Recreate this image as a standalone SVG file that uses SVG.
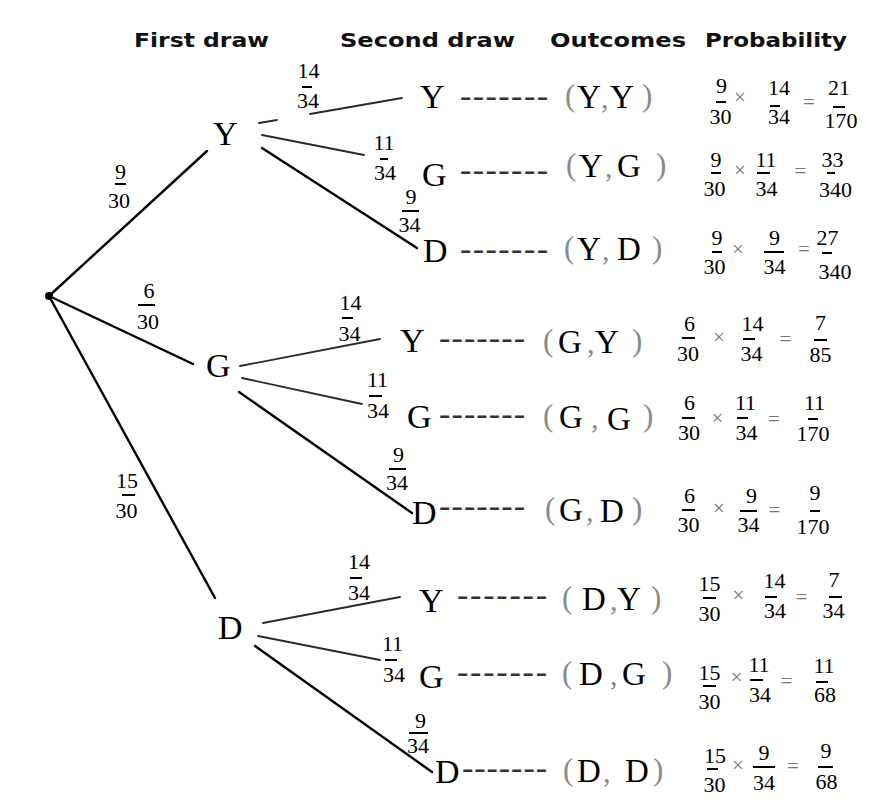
<svg xmlns="http://www.w3.org/2000/svg" width="895" height="800" viewBox="0 0 895 800">
<style>
.hd{font-family:"DejaVu Sans","Verdana",sans-serif;font-weight:bold;font-size:19px;fill:#111}
.L{font-family:"Liberation Serif","Times New Roman",serif;font-size:34px;fill:#000}
.O{font-family:"Liberation Serif","Times New Roman",serif;font-size:33px;fill:#000}
.p{font-family:"Liberation Serif","Times New Roman",serif;font-size:31px;fill:#8a8a8a}
.cm{font-family:"Liberation Serif","Times New Roman",serif;font-size:30px;fill:#888}
.ds{font-family:"Liberation Serif","Times New Roman",serif;font-size:34px;fill:#333}
.f{font-family:"Liberation Serif","Times New Roman",serif;font-size:22px;fill:#000;text-anchor:middle}
.op{font-family:"Liberation Serif","Times New Roman",serif;font-size:21px;fill:#777;text-anchor:middle}
.bar{stroke:#000;stroke-width:2}
.e1{stroke:#000;stroke-width:2.4;fill:none;stroke-linecap:round}
.e2{stroke:#2a2a2a;stroke-width:1.8;fill:none;stroke-linecap:round}
</style>
<rect width="895" height="800" fill="#fff"/>

<g id="headers">
<text class="hd" x="134" y="47" textLength="135" lengthAdjust="spacingAndGlyphs">First draw</text>
<text class="hd" x="340" y="47" textLength="175" lengthAdjust="spacingAndGlyphs">Second draw</text>
<text class="hd" x="550" y="47" textLength="136" lengthAdjust="spacingAndGlyphs">Outcomes</text>
<text class="hd" x="705" y="47" textLength="142" lengthAdjust="spacingAndGlyphs">Probability</text>
</g>

<g id="connectors">
<line class="e1" x1="49" y1="296" x2="207" y2="151"/>
<line class="e1" x1="49" y1="296" x2="193" y2="364"/>
<line class="e1" x1="49" y1="296" x2="215" y2="598"/>
<path class="e2" d="M259,123 L277,120 M310,114 L402,98"/>
<line class="e2" x1="262" y1="135" x2="364" y2="155"/>
<line class="e1" x1="262" y1="148" x2="417" y2="248"/>
<line class="e2" x1="240" y1="366" x2="380" y2="339"/>
<line class="e2" x1="242" y1="378" x2="362" y2="404"/>
<line class="e1" x1="239" y1="392" x2="412" y2="513"/>
<line class="e2" x1="263" y1="623" x2="400" y2="597"/>
<line class="e2" x1="258" y1="636" x2="380" y2="660"/>
<line class="e1" x1="255" y1="646" x2="432" y2="772"/>
</g>

<g id="root"><circle cx="49" cy="296" r="4" fill="#000"/></g>

<g id="n-Y"><text class="L" x="213" y="145">Y</text></g>
<g id="n-G"><text class="L" x="206" y="377">G</text></g>
<g id="n-D"><text class="L" x="218" y="639">D</text></g>

<g id="n-YY"><text class="L" x="420" y="108">Y</text></g>
<g id="n-YG"><text class="L" x="422" y="186">G</text></g>
<g id="n-YD"><text class="L" x="423" y="262">D</text></g>
<g id="n-GY"><text class="L" x="400" y="352">Y</text></g>
<g id="n-GG"><text class="L" x="407" y="428">G</text></g>
<g id="n-GD"><text class="L" x="412" y="524">D</text></g>
<g id="n-DY"><text class="L" x="419" y="612">Y</text></g>
<g id="n-DG"><text class="L" x="419" y="688">G</text></g>
<g id="n-DD"><text class="L" x="435" y="783">D</text></g>

<g id="edge-labels">
<text class="f" x="120.5" y="179">9</text><line class="bar" x1="115" y1="184" x2="126" y2="184"/><text class="f" x="119" y="208">30</text>
<text class="f" x="149" y="298">6</text><line class="bar" x1="138" y1="305" x2="155" y2="305"/><text class="f" x="148" y="329">30</text>
<text class="f" x="127" y="488">15</text><line class="bar" x1="122" y1="495" x2="135" y2="495"/><text class="f" x="126.5" y="518">30</text>

<text class="f" x="308.5" y="78">14</text><line class="bar" x1="302" y1="87" x2="312" y2="87"/><text class="f" x="308" y="108">34</text>
<text class="f" x="384" y="150">11</text><line class="bar" x1="380" y1="159" x2="388" y2="159"/><text class="f" x="385" y="180">34</text>
<text class="f" x="411" y="204">9</text><line class="bar" x1="402" y1="211" x2="419" y2="211"/><text class="f" x="409.5" y="232">34</text>

<text class="f" x="350.5" y="310">14</text><line class="bar" x1="342" y1="318" x2="353" y2="318"/><text class="f" x="349.5" y="341">34</text>
<text class="f" x="377.5" y="387">11</text><line class="bar" x1="369" y1="396" x2="382" y2="396"/><text class="f" x="378" y="418">34</text>
<text class="f" x="398.5" y="462">9</text><line class="bar" x1="389" y1="469" x2="406" y2="469"/><text class="f" x="397" y="490">34</text>

<text class="f" x="359" y="569">14</text><line class="bar" x1="350" y1="578" x2="362" y2="578"/><text class="f" x="359" y="600">34</text>
<text class="f" x="392.5" y="651">11</text><line class="bar" x1="385" y1="660" x2="397" y2="660"/><text class="f" x="394" y="682">34</text>
<text class="f" x="420.5" y="728">9</text><line class="bar" x1="409" y1="733" x2="428" y2="733"/><text class="f" x="418" y="753">34</text>
</g>

<g id="dashes">
<text class="ds" x="460" y="107" textLength="88" lengthAdjust="spacing">-------</text>
<text class="ds" x="460" y="181" textLength="88" lengthAdjust="spacing">-------</text>
<text class="ds" x="460" y="260" textLength="88" lengthAdjust="spacing">-------</text>
<text class="ds" x="439" y="349" textLength="86" lengthAdjust="spacing">-------</text>
<text class="ds" x="439" y="425" textLength="86" lengthAdjust="spacing">-------</text>
<text class="ds" x="439" y="517" textLength="86" lengthAdjust="spacing">-------</text>
<text class="ds" x="457" y="606" textLength="90" lengthAdjust="spacing">-------</text>
<text class="ds" x="457" y="683" textLength="90" lengthAdjust="spacing">-------</text>
<text class="ds" x="462" y="779" textLength="85" lengthAdjust="spacing">-------</text>
</g>

<g id="outcomes">
<g id="o-YY"><text class="p" x="565" y="106">(</text><text class="O" x="577" y="108">Y</text><text class="cm" x="601" y="108">,</text><text class="O" x="610" y="108">Y</text><text class="p" x="642" y="106">)</text></g>
<g id="o-YG"><text class="p" x="566" y="175">(</text><text class="O" x="579" y="177">Y</text><text class="cm" x="605" y="177">,</text><text class="O" x="617" y="177">G</text><text class="p" x="656" y="175">)</text></g>
<g id="o-YD"><text class="p" x="564" y="258">(</text><text class="O" x="577" y="260">Y</text><text class="cm" x="602" y="260">,</text><text class="O" x="617" y="260">D</text><text class="p" x="652" y="258">)</text></g>
<g id="o-GY"><text class="p" x="543" y="351">(</text><text class="O" x="558" y="353">G</text><text class="cm" x="587" y="353">,</text><text class="O" x="595" y="353">Y</text><text class="p" x="632" y="351">)</text></g>
<g id="o-GG"><text class="p" x="543" y="426">(</text><text class="O" x="559" y="428">G</text><text class="cm" x="591" y="428">,</text><text class="O" x="607" y="430">G</text><text class="p" x="643" y="426">)</text></g>
<g id="o-GD"><text class="p" x="545" y="519">(</text><text class="O" x="559" y="521">G</text><text class="cm" x="586" y="521">,</text><text class="O" x="600" y="522">D</text><text class="p" x="632" y="519">)</text></g>
<g id="o-DY"><text class="p" x="562" y="608">(</text><text class="O" x="582" y="610">D</text><text class="cm" x="610" y="610">,</text><text class="O" x="617" y="610">Y</text><text class="p" x="651" y="608">)</text></g>
<g id="o-DG"><text class="p" x="562" y="683">(</text><text class="O" x="579" y="685">D</text><text class="cm" x="610" y="685">,</text><text class="O" x="622" y="685">G</text><text class="p" x="662" y="683">)</text></g>
<g id="o-DD"><text class="p" x="563" y="780">(</text><text class="O" x="577" y="782">D</text><text class="cm" x="603" y="782">,</text><text class="O" x="625" y="782">D</text><text class="p" x="653" y="780">)</text></g>
</g>

<g id="probabilities">
<g id="p-YY">
<text class="f" x="721.5" y="93">9</text><line class="bar" x1="716" y1="102" x2="726" y2="102"/><text class="f" x="720.5" y="124">30</text>
<text class="op" x="740" y="104">×</text>
<text class="f" x="779" y="95">14</text><line class="bar" x1="770" y1="106" x2="780" y2="106"/><text class="f" x="779" y="124">34</text>
<text class="op" x="809" y="109">=</text>
<text class="f" x="839" y="95">21</text><line class="bar" x1="833" y1="107" x2="845" y2="107"/><text class="f" x="841" y="128">170</text>
</g>
<g id="p-YG">
<text class="f" x="716" y="167">9</text><line class="bar" x1="711" y1="173" x2="721" y2="173"/><text class="f" x="714.5" y="196">30</text>
<text class="op" x="740" y="177">×</text>
<text class="f" x="766" y="167">11</text><line class="bar" x1="757" y1="173" x2="770" y2="173"/><text class="f" x="766.5" y="196">34</text>
<text class="op" x="800.5" y="177.5">=</text>
<text class="f" x="832.5" y="167">33</text><line class="bar" x1="827" y1="173" x2="835" y2="173"/><text class="f" x="835.5" y="197">340</text>
</g>
<g id="p-YD">
<text class="f" x="717" y="245">9</text><line class="bar" x1="712" y1="252" x2="722" y2="252"/><text class="f" x="714.5" y="274">30</text>
<text class="op" x="738" y="256">×</text>
<text class="f" x="774.5" y="245">9</text><line class="bar" x1="764" y1="252" x2="784" y2="252"/><text class="f" x="774.5" y="274">34</text>
<text class="op" x="804" y="255.5">=</text>
<text class="f" x="827.5" y="245">27</text><line class="bar" x1="822" y1="253" x2="832" y2="253"/><text class="f" x="835" y="279">340</text>
</g>
<g id="p-GY">
<text class="f" x="689.5" y="331">6</text><line class="bar" x1="682" y1="338" x2="695" y2="338"/><text class="f" x="688" y="361">30</text>
<text class="op" x="719" y="344">×</text>
<text class="f" x="752.5" y="331">14</text><line class="bar" x1="743" y1="339" x2="755" y2="339"/><text class="f" x="751.5" y="361">34</text>
<text class="op" x="785.5" y="345.5">=</text>
<text class="f" x="820.5" y="330">7</text><line class="bar" x1="814" y1="340" x2="827" y2="340"/><text class="f" x="820.5" y="362">85</text>
</g>
<g id="p-GG">
<text class="f" x="689.5" y="410">6</text><line class="bar" x1="682" y1="418" x2="695" y2="418"/><text class="f" x="689" y="440">30</text>
<text class="op" x="717.5" y="425">×</text>
<text class="f" x="745.5" y="410">11</text><line class="bar" x1="737" y1="418" x2="748" y2="418"/><text class="f" x="746.5" y="440">34</text>
<text class="op" x="774" y="425.5">=</text>
<text class="f" x="814.5" y="410">11</text><line class="bar" x1="808" y1="419" x2="818" y2="419"/><text class="f" x="813" y="441">170</text>
</g>
<g id="p-GD">
<text class="f" x="689.5" y="503">6</text><line class="bar" x1="682" y1="510" x2="695" y2="510"/><text class="f" x="688.5" y="532">30</text>
<text class="op" x="719" y="515">×</text>
<text class="f" x="751.5" y="503">9</text><line class="bar" x1="740" y1="511" x2="757" y2="511"/><text class="f" x="748.5" y="532">34</text>
<text class="op" x="774.5" y="516.5">=</text>
<text class="f" x="815" y="500">9</text><line class="bar" x1="810" y1="511" x2="820" y2="511"/><text class="f" x="813" y="534">170</text>
</g>
<g id="p-DY">
<text class="f" x="709.5" y="591">15</text><line class="bar" x1="703" y1="598" x2="716" y2="598"/><text class="f" x="709.5" y="621">30</text>
<text class="op" x="738.5" y="602">×</text>
<text class="f" x="774.5" y="588">14</text><line class="bar" x1="765" y1="597" x2="777" y2="597"/><text class="f" x="775" y="618">34</text>
<text class="op" x="801.5" y="603.5">=</text>
<text class="f" x="834" y="587">7</text><line class="bar" x1="829" y1="597" x2="842" y2="597"/><text class="f" x="833.5" y="618">34</text>
</g>
<g id="p-DG">
<text class="f" x="709.5" y="680">15</text><line class="bar" x1="703" y1="686" x2="716" y2="686"/><text class="f" x="709.5" y="709">30</text>
<text class="op" x="736.5" y="684">×</text>
<text class="f" x="759" y="672">11</text><line class="bar" x1="750" y1="680" x2="763" y2="680"/><text class="f" x="760" y="702">34</text>
<text class="op" x="786.5" y="687.5">=</text>
<text class="f" x="824" y="673">11</text><line class="bar" x1="816" y1="682" x2="828" y2="682"/><text class="f" x="825" y="702">68</text>
</g>
<g id="p-DD">
<text class="f" x="715" y="763">15</text><line class="bar" x1="707" y1="769" x2="718" y2="769"/><text class="f" x="714.5" y="792">30</text>
<text class="op" x="738" y="772">×</text>
<text class="f" x="764" y="760">9</text><line class="bar" x1="753" y1="767" x2="775" y2="767"/><text class="f" x="764" y="790">34</text>
<text class="op" x="793" y="772.5">=</text>
<text class="f" x="826" y="758">9</text><line class="bar" x1="818" y1="767" x2="833" y2="767"/><text class="f" x="826.5" y="789">68</text>
</g>
</g>
</svg>
